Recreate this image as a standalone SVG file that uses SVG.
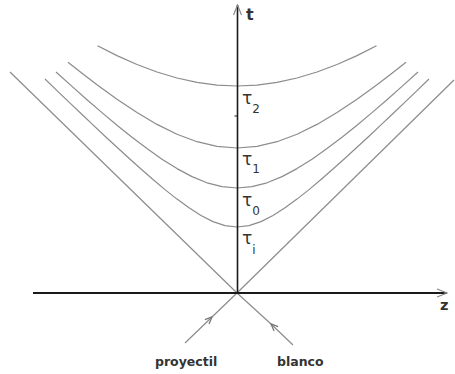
<svg xmlns="http://www.w3.org/2000/svg" width="455" height="374" viewBox="0 0 455 374">
<style>
.axis{stroke:#1a1a1a;fill:none}
.cone{stroke:#8c8c8c;stroke-width:1.2;fill:none}
.hyp{stroke:#8c8c8c;stroke-width:1.2;fill:none;stroke-linejoin:round}
.lbl{font-family:"DejaVu Sans",sans-serif;font-weight:bold;fill:#333}
.tau{font-family:"DejaVu Sans",sans-serif;font-size:17px;fill:#333}
.sub{font-size:12px}
</style>
<defs>
<marker id="axarrow" viewBox="0 0 12 10" refX="11" refY="5" markerWidth="12" markerHeight="10" markerUnits="userSpaceOnUse" orient="auto">
<path d="M1,1 L11,5 L1,9" fill="none" stroke="#888" stroke-width="1.2"/>
</marker>
<marker id="midarrow" viewBox="0 0 10 8" refX="8" refY="4" markerWidth="10" markerHeight="8" markerUnits="userSpaceOnUse" orient="auto">
<path d="M1,1 L8,4 L1,7" fill="none" stroke="#777" stroke-width="1.3"/>
</marker>
</defs>
<rect width="455" height="374" fill="#fff"/>
<g id="connectors">
<g id="cone">
<line class="cone" x1="10" y1="72" x2="237" y2="293"/>
<line class="cone" x1="237" y1="293" x2="454" y2="80"/>
</g>
<g id="hyperbolas">
<polyline class="hyp" points="45,79 57,90.6 69,102.1 81,113.5 93,124.9 105,136.2 117,147.3 129,158.3 141,169 153,179.5 165,189.6 177,199.1 189,207.8 201,215.5 213,221.6 225,225.6 237,227 249,225.6 261,221.6 273,215.5 285,207.8 297,199.1 309,189.6 321,179.5 333,169 345,158.3 357,147.3 369,136.2 381,124.9 393,113.5 405,102.1 417,90.6 429,79"/>
<polyline class="hyp" points="56,72 72,86.4 87,99.7 102,112.6 117,125.2 132,137.2 147,148.6 162,159.2 177,168.6 192,176.6 207,182.8 222,186.7 237,188 252,186.7 267,182.8 282,176.6 297,168.6 312,159.2 327,148.6 342,137.2 357,125.2 372,112.6 387,99.7 402,86.4 418,72"/>
<polyline class="hyp" points="68,62.2 82,73.3 97,84.8 117,99.3 137,112.6 157,124.4 177,134.2 197,141.7 217,146.4 237,148 257,146.4 277,141.7 297,134.2 317,124.4 337,112.6 357,99.3 377,84.8 392,73.3 406,62.2"/>
<polyline class="hyp" points="97.5,45.7 117,55.6 137,64.5 157,72 177,78 197,82.4 217,85.1 237,86 257,85.1 277,82.4 297,78 317,72 337,64.5 357,55.6 376.5,45.7"/>
</g>
<g id="particles">
<path class="cone" d="M185,343 L212,317 L237,293" marker-mid="url(#midarrow)"/>
<path class="cone" d="M293,345 L271,324 L237,293" marker-mid="url(#midarrow)"/>
</g>
<g id="axes">
<line class="axis" x1="33" y1="293" x2="447" y2="293" stroke-width="2" marker-end="url(#axarrow)"/>
<line class="axis" x1="237.5" y1="293" x2="237.5" y2="5" stroke-width="1.6" marker-end="url(#axarrow)"/>
<line class="axis" x1="234.5" y1="116" x2="237.5" y2="116" stroke-width="1"/>
</g>
</g>
<g id="labels">
<text class="lbl" x="246" y="20" font-size="16">t</text>
<text class="lbl" x="440" y="310" font-size="14.5">z</text>
<text id="tau2" class="tau" x="242" y="104">τ<tspan class="sub" dy="9">2</tspan></text>
<text id="tau1" class="tau" x="242" y="165">τ<tspan class="sub" dy="8">1</tspan></text>
<text id="tau0" class="tau" x="242" y="206">τ<tspan class="sub" dy="9">0</tspan></text>
<text id="taui" class="tau" x="242" y="244">τ<tspan class="sub" dy="10">i</tspan></text>
<text class="lbl" x="155" y="366" font-size="12.5">proyectil</text>
<text class="lbl" x="277" y="366" font-size="12.5">blanco</text>
</g>
</svg>
